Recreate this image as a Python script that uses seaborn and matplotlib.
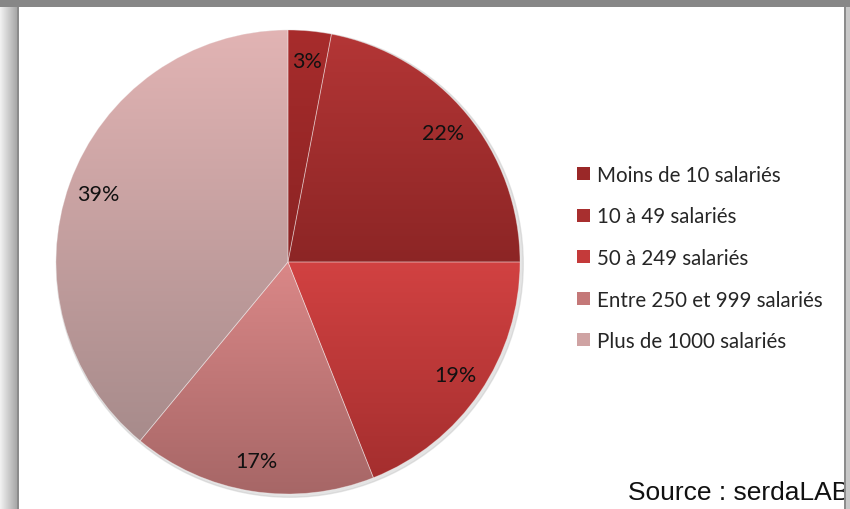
import numpy as np
import matplotlib
matplotlib.use("Agg")
import matplotlib.pyplot as plt
import seaborn as sns
from matplotlib.patches import Rectangle
from matplotlib.colors import LinearSegmentedColormap

# ---- data ----
categories = ["Moins de 10 salariés", "10 à 49 salariés", "50 à 249 salariés",
              "Entre 250 et 999 salariés", "Plus de 1000 salariés"]
values = [3, 22, 19, 17, 39]
top_colors = ["#A82C2C", "#B43636", "#D24242", "#DB8888", "#E2B4B4"]
bottom_colors = ["#8A2323", "#8C2525", "#A42E2E", "#A66666", "#A78B8B"]
legend_colors = ["#9A2828", "#A82F2F", "#C43A3A", "#C47878", "#CFA3A3"]
source_text = "Source : serdaLAB"

sns.set_theme(style="white")
plt.rcParams['font.family'] = ['Lato', 'DejaVu Sans']

W, H = 850, 510
fig = plt.figure(figsize=(W / 100, H / 100), dpi=100, facecolor="white")

# ---- frame decoration ----
grad = np.linspace(0, 1, 64).reshape(1, -1)
lg = LinearSegmentedColormap.from_list("lg", ["#F2F2F2", "#A8A8A8"])
axl = fig.add_axes([0, 0, 17 / W, 1])
axl.imshow(grad, aspect="auto", cmap=lg, extent=[0, 1, 0, 1])
axl.axis("off")
fig.patches.append(Rectangle((17 / W, 0), 2 / W, 1, transform=fig.transFigure,
                             facecolor="#8C8C8C", edgecolor="none", zorder=5))
fig.patches.append(Rectangle((0, 1 - 8 / H), 1, 8 / H, transform=fig.transFigure,
                             facecolor="#878787", edgecolor="none", zorder=6))
fig.patches.append(Rectangle((844 / W, 0), 2 / W, 1, transform=fig.transFigure,
                             facecolor="#8C8C8C", edgecolor="none", zorder=5))
fig.patches.append(Rectangle((846 / W, 0), 4 / W, 1, transform=fig.transFigure,
                             facecolor="#C8C8C8", edgecolor="none", zorder=5))

# ---- pie ----
cx, cy, r = 288, 263, 232
L = 1.02
ax = fig.add_axes([(cx - r * L) / W, (H - cy - r * L) / H, 2 * r * L / W, 2 * r * L / H])
wedges, texts, autotexts = ax.pie(
    values, startangle=90, counterclock=False, colors=legend_colors,
    autopct=lambda p: f"{p:.0f}%", pctdistance=0.87,
    wedgeprops=dict(linewidth=0.6, edgecolor=(1, 1, 1, 0.35)),
    textprops=dict(fontsize=15.5, color="#111111"))

# soft shadow
shadow = plt.Circle((0.008, -0.008), 1.006, color="#C4C4C4", alpha=0.45, zorder=0.5,
                    transform=ax.transData)
ax.add_patch(shadow)

# gradient fill clipped to each wedge
for w, ct, cb in zip(wedges, top_colors, bottom_colors):
    verts = w.get_patch_transform().transform(w.get_path().vertices)
    x0, x1 = verts[:, 0].min(), verts[:, 0].max()
    y0, y1 = verts[:, 1].min(), verts[:, 1].max()
    y0, y1 = max(y0, -1), min(y1, 1)
    cm = LinearSegmentedColormap.from_list("g", [cb, ct])
    g = np.linspace(0, 1, 256).reshape(-1, 1)
    im = ax.imshow(g, cmap=cm, origin="lower", aspect="auto",
                   extent=[x0 - 0.01, x1 + 0.01, y0 - 0.01, y1 + 0.01],
                   zorder=1.5, interpolation="bilinear")
    im.set_clip_path(w)
    w.set_zorder(1.6)
    w.set_facecolor("none")
for t in autotexts:
    t.set_zorder(3)
ax.set_xlim(-L, L)
ax.set_ylim(-L, L)
ax.set_aspect("auto")
ax.axis("off")

# ---- legend ----
handles = [Rectangle((0, 0), 1, 1, facecolor=c, edgecolor="none") for c in legend_colors]
fig.legend(handles, categories, loc="center left",
           bbox_to_anchor=(569 / W, (H - 259) / H), frameon=False,
           fontsize=14.8, handlelength=0.6, handleheight=0.6,
           handletextpad=0.35, labelspacing=1.05, borderaxespad=0)

fig.text(849 / W, (H - 493) / H, source_text, ha="right", va="center",
         fontsize=19, family=["Liberation Sans", "DejaVu Sans"], color="#111111",
         zorder=4)

fig.savefig("out.png", dpi=100, facecolor="white")
